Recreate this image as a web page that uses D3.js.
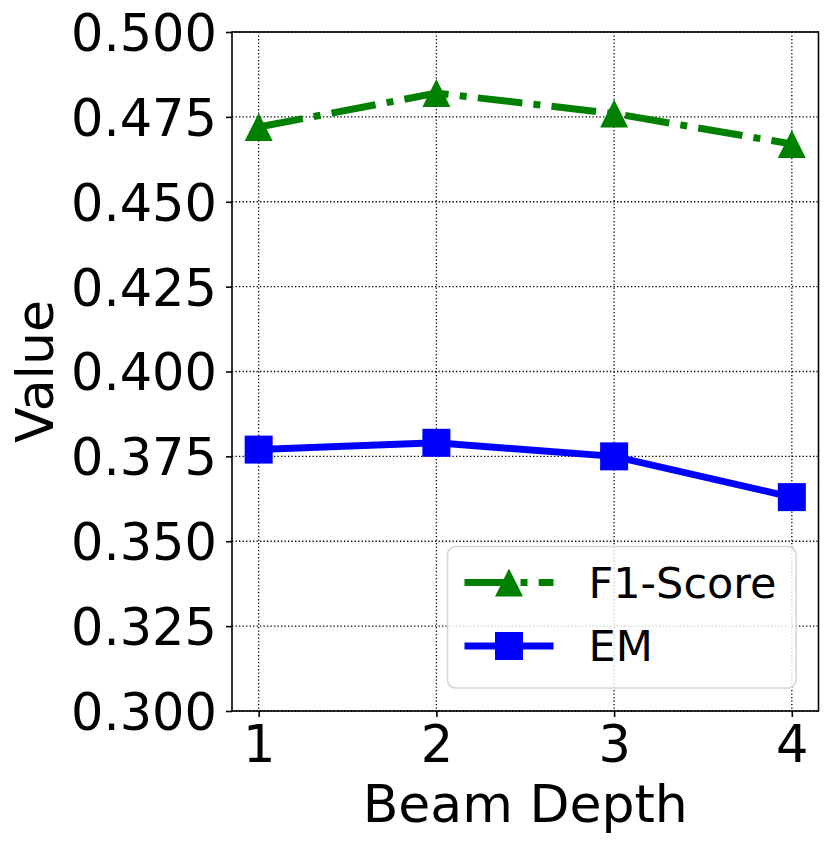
<!DOCTYPE html>
<html>
<head>
<meta charset="utf-8">
<script src="https://cdn.jsdelivr.net/npm/d3@7"></script>
<style>
  body { margin: 0; background: #fff; }
  text { font-family: "DejaVu Sans", sans-serif; fill: #000; }
</style>
</head>
<body>
<div id="chart"></div>
<script>
// Data
var depths = [1, 2, 3, 4];
var f1Score = [0.472, 0.482, 0.476, 0.467];
var emScore = [0.377, 0.379, 0.375, 0.363];
var yTicks = [0.300, 0.325, 0.350, 0.375, 0.400, 0.425, 0.450, 0.475, 0.500];

var W = 831, H = 844;
var margin = { top: 32, right: 12.5, bottom: 133, left: 232 };
var width = W - margin.left - margin.right;
var height = H - margin.top - margin.bottom;

var svg = d3.select("#chart").append("svg")
    .attr("width", W)
    .attr("height", H);
svg.append("rect").attr("width", W).attr("height", H).attr("fill", "#fff");

var g = svg.append("g")
    .attr("transform", `translate(${margin.left}, ${margin.top})`);

// matplotlib style 5% margins on x
var x = d3.scaleLinear().domain([0.85, 4.15]).range([0, width]);
var y = d3.scaleLinear().domain([0.300, 0.500]).range([height, 0]);

// grid
g.append("g").selectAll("line").data(depths).enter().append("line")
    .attr("x1", d => x(d)).attr("x2", d => x(d))
    .attr("y1", 0).attr("y2", height)
    .attr("stroke", "#000").attr("stroke-width", 1.3)
    .attr("stroke-dasharray", "1.3,2.2");
g.append("g").selectAll("line").data(yTicks).enter().append("line")
    .attr("x1", 0).attr("x2", width)
    .attr("y1", d => y(d)).attr("y2", d => y(d))
    .attr("stroke", "#000").attr("stroke-width", 1.3)
    .attr("stroke-dasharray", "1.3,2.2");

// axes
var xAxis = g.append("g")
    .attr("transform", `translate(0, ${height})`)
    .call(d3.axisBottom(x).tickValues(depths).tickFormat(d3.format("d")).tickSize(6).tickPadding(8));
var yAxis = g.append("g")
    .call(d3.axisLeft(y).tickValues(yTicks).tickFormat(d3.format(".3f")).tickSize(6).tickPadding(9));
[xAxis, yAxis].forEach(a => {
    a.select(".domain").remove();
    a.selectAll(".tick line").attr("stroke", "#000").attr("stroke-width", 1.6);
    a.selectAll(".tick text")
        .style("font-family", "'DejaVu Sans', sans-serif")
        .style("font-size", "51px")
        .attr("fill", "#000");
});
yAxis.selectAll(".tick text").attr("dy", "0.36em");
xAxis.selectAll(".tick text").attr("dy", "0.72em");

// frame
g.append("rect")
    .attr("width", width).attr("height", height)
    .attr("fill", "none").attr("stroke", "#000").attr("stroke-width", 1.6);

// axis labels
g.append("text")
    .attr("x", width / 2)
    .attr("y", height + 111)
    .attr("text-anchor", "middle")
    .style("font-size", "52px")
    .text("Beam Depth");
g.append("text")
    .attr("transform", `translate(${-232 + 35 + 18}, ${height / 2}) rotate(-90)`)
    .attr("text-anchor", "middle")
    .style("font-size", "52px")
    .text("Value");

var ms = 28, lw = 7;
var triPath = `M0,${-ms / 2}L${ms / 2},${ms / 2}L${-ms / 2},${ms / 2}Z`;

var line = d3.line().x(d => x(d[0])).y(d => y(d[1]));

var series = [
    { name: "F1-Score", values: f1Score, color: "#008000", dash: "44.8,11.2,7,11.2", marker: "tri" },
    { name: "EM", values: emScore, color: "#0000ff", dash: null, marker: "sq" }
];

series.forEach(s => {
    var pts = depths.map((d, i) => [d, s.values[i]]);
    g.append("path")
        .datum(pts)
        .attr("d", line)
        .attr("fill", "none")
        .attr("stroke", s.color)
        .attr("stroke-width", lw)
        .attr("stroke-dasharray", s.dash);
    var m = g.append("g").selectAll("path").data(pts).enter().append("path")
        .attr("transform", d => `translate(${x(d[0])}, ${y(d[1])})`)
        .attr("fill", s.color);
    if (s.marker === "tri") m.attr("d", triPath);
    else m.attr("d", `M${-ms / 2},${-ms / 2}h${ms}v${ms}h${-ms}Z`);
});

// legend
var legend = svg.append("g").attr("transform", "translate(447.5, 546.5)");
legend.append("rect")
    .attr("width", 348.5).attr("height", 141.5)
    .attr("rx", 8).attr("ry", 8)
    .attr("fill", "#fff").attr("fill-opacity", 0.8)
    .attr("stroke", "#d6d6d6").attr("stroke-width", 1.6);
var rows = [36, 99.5];
series.forEach((s, i) => {
    var row = legend.append("g").attr("transform", `translate(0, ${rows[i]})`);
    row.append("line")
        .attr("x1", 17).attr("x2", 106)
        .attr("stroke", s.color).attr("stroke-width", lw)
        .attr("stroke-dasharray", s.dash);
    row.append("path")
        .attr("transform", "translate(61.5, 0)")
        .attr("d", s.marker === "tri" ? triPath : `M${-ms / 2},${-ms / 2}h${ms}v${ms}h${-ms}Z`)
        .attr("fill", s.color);
    row.append("text")
        .attr("x", 141)
        .attr("dy", "0.36em")
        .style("font-size", "43px")
        .text(s.name);
});
</script>
</body>
</html>
